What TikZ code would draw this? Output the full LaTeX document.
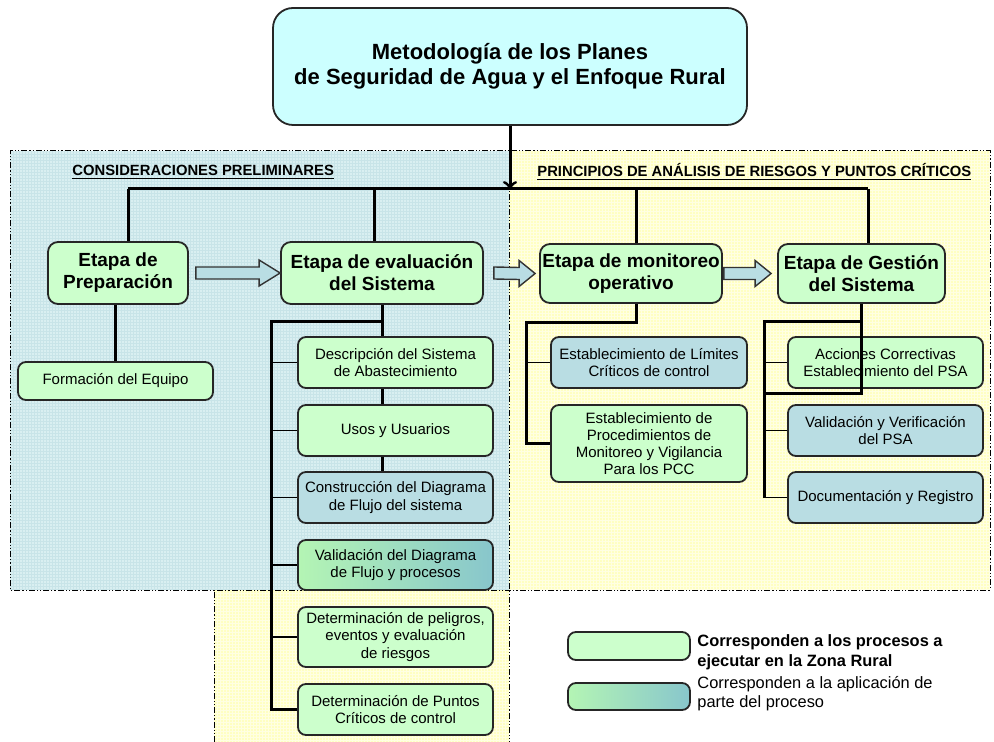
\documentclass[tikz,border=0pt]{standalone}
\usepackage{fontspec}
\setmainfont{Liberation Sans}
\usetikzlibrary{calc,backgrounds}

\definecolor{titelcyan}{HTML}{CCFFFF}
\definecolor{boxgruen}{HTML}{CCFFCC}
\definecolor{boxblau}{HTML}{B9DDE3}
\definecolor{feldblau}{HTML}{D9EFF1}
\definecolor{gitterblau}{HTML}{C8E4E8}
\definecolor{feldgelb}{HTML}{FFFFC2}
\definecolor{gittergelb}{HTML}{FFFFE2}
\definecolor{verlaufgruen}{HTML}{B4F5B4}
\definecolor{verlaufblau}{HTML}{88C6CC}

\begin{document}
\begin{tikzpicture}[x=0.5pt, y=-0.5pt,
	box/.style={draw=black!85, line width=0.9pt, rounded corners=4pt, align=center, inner sep=1pt, font=\fontsize{7.5}{8.6}\selectfont},
	gruen/.style={box, fill=boxgruen},
	blau/.style={box, fill=boxblau},
	verlauf/.style={box, left color=verlaufgruen, right color=verlaufblau},
	etappe/.style={gruen, rounded corners=5pt, font=\fontsize{9.5}{11}\selectfont\bfseries},
	linie/.style={line width=1.5pt},
	ast/.style={line width=0.8pt},
	pfeil/.style={draw=black!80, line width=0.7pt, fill=boxblau},
	rand/.style={line width=0.5pt, dash pattern=on 3pt off 1pt on 0.6pt off 1pt on 0.6pt off 1pt},
	kopf/.style={font=\fontsize{7.4}{9}\selectfont\bfseries}]
	\useasboundingbox (0,0) rectangle (994,742);

	% Titel
	\node [box, fill=titelcyan, rounded corners=10pt, minimum width=237pt, minimum height=58.5pt, font=\fontsize{11}{12.5}\selectfont\bfseries] (titel) at (510,66.5) {Metodología de los Planes\\de Seguridad de Agua y el Enfoque Rural};

	% Etappen
	\node [etappe, minimum width=70pt, minimum height=31pt] (prep) at (118,273) {Etapa de\\Preparación};
	\node [etappe, minimum width=101pt, minimum height=31pt] (eval) at (382,273) {Etapa de evaluación\\del Sistema};
	\node [etappe, minimum width=91pt, minimum height=29.5pt] (mon) at (631,273.5) {Etapa de monitoreo\\operativo};
	\node [etappe, minimum width=83.5pt, minimum height=29.5pt] (gest) at (861.5,273.5) {Etapa de Gestión\\del Sistema};

	% Unterpunkte
	\node [gruen, minimum width=97.5pt, minimum height=19pt] (form) at (115.5,381) {Formación del Equipo};
	\node [gruen, minimum width=97.5pt, minimum height=25.5pt] (desc) at (395.5,362.5) {Descripción del Sistema\\de Abastecimiento};
	\node [gruen, minimum width=97.5pt, minimum height=25.5pt] (usos) at (395.5,430.5) {Usos y Usuarios};
	\node [blau, minimum width=97.5pt, minimum height=25.5pt] (constr) at (395.5,497.5) {Construcción del Diagrama\\de Flujo del sistema};
	\node [verlauf, minimum width=97.5pt, minimum height=25pt] (valid) at (395.5,565) {Validación del Diagrama\\de Flujo y procesos};
	\node [gruen, minimum width=97.5pt, minimum height=30pt] (peligros) at (395.5,637) {Determinación de peligros,\\eventos y evaluación\\de riesgos};
	\node [gruen, minimum width=97.5pt, minimum height=25.5pt] (puntos) at (395.5,709.5) {Determinación de Puntos\\Críticos de control};
	\node [blau, minimum width=98pt, minimum height=25.5pt] (limites) at (649,362.5) {Establecimiento de Límites\\Críticos de control};
	\node [gruen, minimum width=98pt, minimum height=38.5pt] (proced) at (649,443.5) {Establecimiento de\\Procedimientos de\\Monitoreo y Vigilancia\\Para los PCC};
	\node [gruen, minimum width=97.5pt, minimum height=25.5pt] (acciones) at (885.5,362.5) {Acciones Correctivas\\Establecimiento del PSA};
	\node [blau, minimum width=97.5pt, minimum height=25.5pt] (valpsa) at (885.5,430.5) {Validación y Verificación\\del PSA};
	\node [blau, minimum width=97.5pt, minimum height=25.5pt] (docu) at (885.5,497.5) {Documentación y Registro};

	% Legende
	\node [gruen, minimum width=61pt, minimum height=14pt] (leg1) at (629,646) {};
	\node [verlauf, minimum width=61pt, minimum height=13.5pt] (leg2) at (629,696.5) {};
	\node [anchor=west, align=left, inner sep=0pt, font=\fontsize{8.2}{10}\selectfont\bfseries] (leg1txt) at (697,652) {Corresponden a los procesos a\\ejecutar en la Zona Rural};
	\node [anchor=west, align=left, inner sep=0pt, font=\fontsize{8.2}{9.5}\selectfont] (leg2txt) at (697,694) {Corresponden a la aplicación de\\parte del proceso};

	% Ueberschriften
	\node [kopf, anchor=west, inner sep=0pt] (kopfL) at (72,172) {\underline{CONSIDERACIONES PRELIMINARES}};
	\node [kopf, anchor=west, inner sep=0pt] (kopfR) at (537,172) {\underline{PRINCIPIOS DE ANÁLISIS DE RIESGOS Y PUNTOS CRÍTICOS}};

	\coordinate (busL) at (128,189);
	\coordinate (busE) at (374,189);
	\coordinate (busM) at (510,189);
	\coordinate (busO) at (636,189);
	\coordinate (busR) at (868,189);
	\coordinate (evL) at (271,322);
	\coordinate (moL) at (526,323);
	\coordinate (geL) at (764,322);
	\coordinate (geU) at (764,394);

	\begin{scope}[on background layer]
		% Felder
		\fill[feldblau] (10,151) rectangle (509,590);
		\fill[feldgelb] (509,151) rectangle (990,590);
		\fill[feldgelb] (214,590) rectangle (509,742);
		\foreach \gx in {13,16,...,507} \draw[gitterblau, line width=0.15pt] (\gx,151) -- (\gx,590);
		\foreach \gy in {154,157,...,589} \draw[gitterblau, line width=0.15pt] (10,\gy) -- (509,\gy);
		\foreach \gx in {512,515,...,989} \draw[gittergelb, line width=0.15pt] (\gx,151) -- (\gx,590);
		\foreach \gx in {217,220,...,507} \draw[gittergelb, line width=0.15pt] (\gx,590) -- (\gx,742);
		\foreach \gy in {154,157,...,589} \draw[gittergelb, line width=0.15pt] (509,\gy) -- (990,\gy);
		\foreach \gy in {593,596,...,741} \draw[gittergelb, line width=0.15pt] (214,\gy) -- (509,\gy);
		\draw[rand] (214,742) -- (214,590) -- (10,590) -- (10,151) -- (990,151) -- (990,590) -- (214,590);
		\draw[rand] (509,151) -- (509,742);

		% Hauptlinien
		\draw[linie, ->] (titel.south) -- (busM);
		\draw[linie] (busL) -- (busR);
		\draw[linie] (busL) -- (busL |- prep.north);
		\draw[linie] (busE) -- (busE |- eval.north);
		\draw[linie] (busO) -- (busO |- mon.north);
		\draw[linie] (busR) -- (busR |- gest.north);

		% Vorbereitung
		\draw[linie] (form.north |- prep.south) -- (form.north);

		% Evaluation
		\draw[linie] (eval.south) -- (eval.south |- constr.north);	% hinter den Kaesten
		\draw[linie] (eval.south |- evL) -- (evL) |- (puntos.west);
		\foreach \k in {desc,usos,constr,valid,peligros}
			\draw[ast] (evL |- \k.west) -- (\k.west);

		% Monitoreo
		\draw[linie] (busO |- mon.south) -- (busO |- moL) -- (moL) |- (proced.west);
		\draw[ast] (moL |- limites.west) -- (limites.west);
	\end{scope}

	% Gestion (ueber dem Kasten)
	\draw[linie] (gest.south) -- (gest.south |- geU) -- (geU);
	\draw[linie] (gest.south |- geL) -- (geL) -- (geL |- docu.west);
	\foreach \k in {acciones,valpsa,docu}
		\draw[ast] (geL |- \k.west) -- (\k.west);

	% Blockpfeile
	\draw[pfeil] ($(prep.east)+(7,-6)$) -- ($(eval.west)+(-21,-6)$) -- ($(eval.west)+(-21,-13)$) -- (eval.west) -- ($(eval.west)+(-21,13)$) -- ($(eval.west)+(-21,6)$) -- ($(prep.east)+(7,6)$) -- cycle;
	\draw[pfeil] ($(eval.east)+(10,-6)$) -- ($(mon.west)+(-20,-6)$) -- ($(mon.west)+(-20,-13)$) -- ($(mon.west)+(-4,0)$) -- ($(mon.west)+(-20,13)$) -- ($(mon.west)+(-20,6)$) -- ($(eval.east)+(10,6)$) -- cycle;
	\draw[pfeil] ($(mon.east)+(1,-6)$) -- ($(gest.west)+(-22,-6)$) -- ($(gest.west)+(-22,-13)$) -- ($(gest.west)+(-6,0)$) -- ($(gest.west)+(-22,13)$) -- ($(gest.west)+(-22,6)$) -- ($(mon.east)+(1,6)$) -- cycle;

\end{tikzpicture}
\end{document}
